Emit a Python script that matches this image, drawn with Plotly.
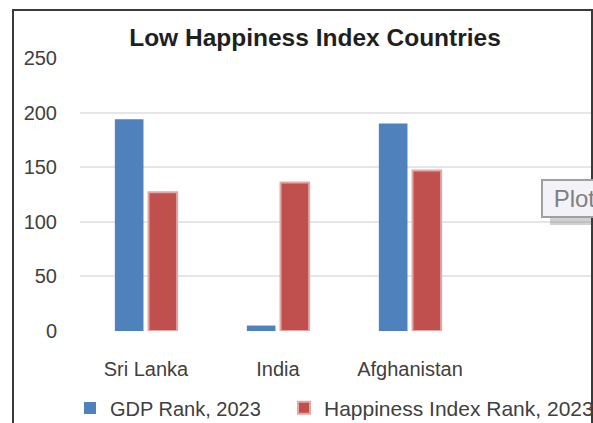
import plotly.graph_objects as go

categories = ["Sri Lanka", "India", "Afghanistan"]
gdp_rank = [194, 5, 190]
happiness_rank = [127, 136, 147]
series_names = ["GDP Rank, 2023", "Happiness Index Rank, 2023"]
title_text = "Low Happiness Index Countries"
y_ticks = [0, 50, 100, 150, 200, 250]

FONT = "Liberation Sans"
W, H = 593, 423
PL, PT, PB = 80, 58, 331
PW = W - PL
PH = PB - PT

fig = go.Figure()
fig.add_trace(go.Bar(
    x=categories, y=gdp_rank, name=series_names[0], legend="legend",
    marker=dict(color="#4F81BD", line=dict(color="#A9C0DF", width=0)),
))
fig.add_trace(go.Bar(
    x=categories, y=happiness_rank, name=series_names[1], legend="legend2",
    marker=dict(color="#C0504D", line=dict(color="#E3A8A6", width=2)),
))

legend_common = dict(orientation="h", xanchor="left", y=(PB - 408) / PH,
                     yanchor="middle", bgcolor="rgba(0,0,0,0)")

fig.update_layout(
    width=W, height=H,
    margin=dict(l=PL, r=0, t=PT, b=H - PB, autoexpand=False),
    paper_bgcolor="white", plot_bgcolor="white",
    barmode="group", bargap=0.49, bargroupgap=0.15,
    font=dict(family=FONT, size=20, color="#404040"),
    title=dict(text="<b>" + title_text + "</b>", x=315 / W, xanchor="center",
               y=1 - 37 / H, yanchor="middle",
               font=dict(family=FONT, size=24.5, color="#1F1F1F")),
    showlegend=True,
    legend=dict(x=(70 - PL) / PW, font=dict(family=FONT, size=20, color="#404040"),
                **legend_common),
    legend2=dict(x=(284 - PL) / PW, font=dict(family=FONT, size=21, color="#404040"),
                 **legend_common),
    xaxis=dict(range=[-0.5, -0.5 + PW / 132], showgrid=False, showline=False,
               zeroline=False, ticks="", ticklabelstandoff=24),
    yaxis=dict(range=[0, 250], tickvals=y_ticks, showgrid=True, gridcolor="#E6E6E6",
               gridwidth=2, zeroline=False, showline=False, ticks="",
               ticklabelstandoff=22),
    shapes=[
        dict(type="rect", xref="paper", yref="paper", x0=(550 - PL) / PW,
             x1=(W + 20 - PL) / PW, y0=(PB - 225) / PH, y1=(PB - 217) / PH,
             line=dict(width=0), fillcolor="rgba(120,120,120,0.35)", layer="above"),
        dict(type="rect", xref="paper", yref="paper", x0=(13 - PL) / PW,
             x1=(592 - PL) / PW, y0=-2, y1=1 + (PT - 10) / PH,
             line=dict(color="#3A3A3A", width=2), layer="above"),
    ],
    annotations=[dict(xref="paper", yref="paper", x=(541 - PL) / PW, xanchor="left",
                      y=(PB - 198) / PH, yanchor="middle", text="&nbsp;Plot Area",
                      showarrow=False, font=dict(family=FONT, size=24, color="#808080"),
                      bgcolor="#F2F2F8", bordercolor="#A0A0A0", borderwidth=2,
                      borderpad=4, align="left")],
)

fig.write_html("out.html", config={"displayModeBar": False},
               post_script="document.body.style.margin='0';"
                           "document.body.style.overflow='hidden';")
